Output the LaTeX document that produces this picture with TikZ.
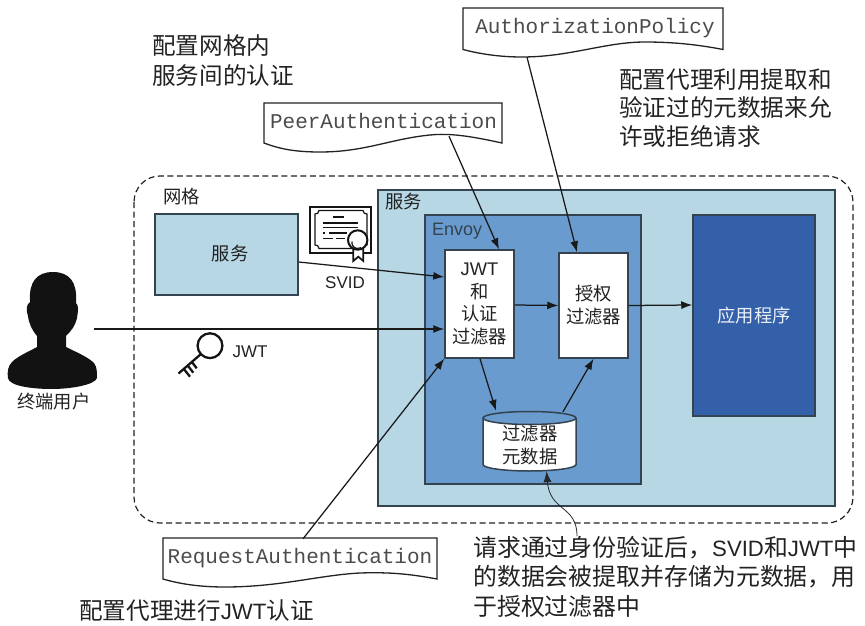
\documentclass[tikz,border=0pt]{standalone}
\usepackage{fontspec}
\setmainfont{Liberation Sans}
\setmonofont{Liberation Mono}
\newfontfamily\cjk{Noto Sans CJK SC}
\usetikzlibrary{arrows.meta,shapes.geometric,calc}
\newcommand{\fs}[2]{\fontsize{#1}{#2}\selectfont}
\newcommand{\lat}[1]{{\fontspec{Liberation Sans}\fontsize{22.2}{28}\selectfont #1}}
\definecolor{ink}{HTML}{222222}
\definecolor{edge}{HTML}{33434F}
\definecolor{pale}{HTML}{B7D7E5}
\definecolor{mid}{HTML}{6A9BCE}
\definecolor{deep}{HTML}{3360A8}
\tikzset{
  box/.style={draw=edge,line width=1.5pt,inner sep=0pt,text=ink,align=center},
  lab/.style={inner sep=0pt,text=ink,font=\fs{18.3}{22}\cjk},
  note/.style={inner sep=0pt,text=ink,anchor=north west,align=left,font=\fs{23.6}{29.5}\cjk},
  doc/.style={draw=ink,line width=1.3pt,fill=white,line join=miter},
  code/.style={inner sep=0pt,text=black!70,font=\fs{21}{24}\ttfamily},
  conn/.style={draw=black!90,line width=1.25pt,-{Latex[length=11pt,width=8pt]}},
  icon/.style={draw=black!92,line width=2pt},
}
\begin{document}
\begin{tikzpicture}[x=1pt,y=-1pt]
\useasboundingbox (0,0) rectangle (865,626);
% containers
\draw[ink,line width=1.2pt,dash pattern=on 6pt off 3.5pt,rounded corners=26pt] (134,176) rectangle (853,523);
\node[box,fill=pale,minimum width=457pt,minimum height=316pt] (svc) at (606.5,348) {};
\node[box,fill=mid,minimum width=216pt,minimum height=269pt] (envoy) at (533,349.5) {};
\node[box,fill=deep,minimum width=122pt,minimum height=201pt,font=\fs{18.3}{22}\cjk] (app) at (754,315.5) {\textcolor{white!90!deep}{应用程序}};
\node[box,fill=pale,minimum width=143pt,minimum height=81pt] (mesh) at (226.5,254.5) {};
\node[lab] (meshl) at (230,254) {服务};
\node[box,fill=white,minimum width=69pt,minimum height=108pt,font=\fs{18.3}{22.8}] (jwt) at (479.5,304) {JWT\\\cjk 和\\\cjk 认证\\\cjk 过滤器};
\node[box,fill=white,minimum width=69pt,minimum height=105pt,font=\fs{18.3}{23}\cjk] (auth) at (593.5,305.5) {授权\\过滤器};
% cylinder
\fill[white] (483,418) -- (483,464.5) arc[start angle=180,end angle=360,x radius=46.5,y radius=-6.5] -- (576,418) arc[start angle=0,end angle=180,x radius=46.5,y radius=6.5] -- cycle;
\draw[edge,line width=1.5pt] (483,418) -- (483,464.5) arc[start angle=180,end angle=0,x radius=46.5,y radius=6.5] -- (576,418);
\draw[edge,line width=1.5pt] (529.5,418) ellipse[x radius=46.5,y radius=6.5];
\node[inner sep=0pt,minimum width=93pt,minimum height=60pt] (meta) at (529.5,441) {};
\node[inner sep=0pt,text=ink,align=center,font=\fs{18.3}{23}\cjk] (metal) at (530,445) {过滤器\\元数据};
% labels
\node[lab,anchor=west] (l1) at (163,197) {网格};
\node[lab,anchor=west] (l2) at (385,202) {服务};
\node[inner sep=0pt,anchor=west,text=edge,font=\fs{18}{20}] (l3) at (432,231) {Envoy};
\node[inner sep=0pt,text=ink,font=\fs{17}{20}] (l4) at (345,283) {SVID};
\node[inner sep=0pt,text=ink,font=\fs{17}{20}] (l5) at (250,352) {JWT};
\node[lab] (l6) at (54,402) {终端用户};
% notes
\node[note] (n1) at (152,34.5) {配置网格内\\服务间的认证};
\node[note,font=\fs{23.6}{28.7}\cjk] (n2) at (619,68) {配置代理利用提取和\\验证过的元数据来允\\许或拒绝请求};
\node[note,font=\fs{23.9}{29.3}\cjk] (n3) at (473,536) {请求通过身份验证后，\lat{SVID}和\lat{JWT}中\\的数据会被提取并存储为元数据，用\\于授权过滤器中};
\node[note] (n4) at (79,599) {配置代理进行\lat{JWT}认证};
% documents
\draw[doc] (264,103) -- (502,103) -- (502,143) .. controls (470,136) and (450,133) .. (430,135) .. controls (390,139) and (365,152) .. (320,152) .. controls (295,152) and (280,149) .. (264,143) -- cycle;
\node[code,minimum width=238pt,minimum height=36pt] (peer) at (383.5,121) {PeerAuthentication};
\draw[doc] (463,8) -- (723,8) -- (723,49.5) .. controls (700,45) and (675,42) .. (645,42) .. controls (605,42) and (570,57) .. (522,57) .. controls (500,57) and (480,54) .. (463,49.5) -- cycle;
\node[code,minimum width=256pt,minimum height=34pt] (authz) at (595,28) {AuthorizationPolicy};
\draw[doc] (163,538) -- (437,538) -- (437,579) .. controls (410,574) and (390,572) .. (360,573) .. controls (320,575) and (280,587) .. (225,587) .. controls (200,587) and (180,584) .. (163,579) -- cycle;
\node[code,minimum width=274pt,minimum height=38pt] (req) at (300,558) {RequestAuthentication};
% person
\fill[black!93] (30,300) .. controls (29,283) and (36,272) .. (53,272) .. controls (70,272) and (77,283) .. (76,300) -- (76,303) .. controls (79,305) and (78,312) .. (77,318) .. controls (75,326) and (72,330) .. (66,336) -- (66,347) .. controls (76,352) and (88,357) .. (94,363) .. controls (97,367) and (97,372) .. (97,378) .. controls (95,385) and (70,389) .. (52,389) .. controls (32,389) and (9,386) .. (8,378) .. controls (7,372) and (8,366) .. (12,362) .. controls (18,356) and (28,352) .. (37,347) -- (37,336) .. controls (32,330) and (29,324) .. (28,316) .. controls (26,310) and (26,305) .. (30,302) -- cycle;
\coordinate (user) at (94,329);
% certificate
\draw[icon] (309.5,206.5) rectangle (371,252.5);
\draw[black!92,line width=1.2pt] (319,210.5) -- (363,210.5) .. controls (363,213) and (365,214) .. (367,214) -- (367,245) .. controls (365,245) and (363,246) .. (363,248.5) -- (319,248.5) .. controls (319,246) and (317,245) .. (315,245) -- (315,214) .. controls (317,214) and (319,213) .. (319,210.5) -- cycle;
\draw[black!92,line width=1.6pt] (333,216.7) -- (343.5,216.7) (323,222.7) -- (358,222.7) (323,227.5) -- (358,227.5) (323,233) -- (325,233) (329,233) -- (347,233) (323,238.3) -- (333,238.3) (336,238.3) -- (345,238.3);
\fill[white] (353,248) rectangle (364,261);
\draw[black!92,line width=1.7pt] (353.3,248) -- (353.3,261) -- (358.3,256.7) -- (363.3,261) -- (363.3,248);
\draw[black!92,line width=2pt,fill=white] (357.7,240) circle (9.7);
\draw[black!92,line width=1.2pt] (352,241.5) arc[start angle=190,end angle=60,radius=6];
% key
\draw[icon,line width=2.3pt] (210,345.7) circle (12.4);
\draw[icon,line width=2.3pt] (201,354) -- (178.5,373.5) (183.3,368.3) -- (190,376.7) (187.3,365) -- (193.3,372.7) (191.7,361.7) -- (196.7,368.3);
% connectors
\draw[conn] ([yshift=-7.5pt]mesh.east) -- ([yshift=27pt]jwt.west);
\draw[conn] (user) -- ([yshift=-25pt]jwt.west);
\draw[conn] ([xshift=65.5pt,yshift=3pt]peer.south) -- ([xshift=19.5pt]jwt.north);
\draw[conn] ([xshift=-68pt,yshift=-12pt]authz.south) -- ([xshift=-16.5pt]auth.north);
\draw[conn] ([xshift=3pt]req.north) -- (jwt.south west);
\draw[conn] ([yshift=-1pt]jwt.east) -- (auth.west);
\draw[conn] (auth.east) -- ([yshift=10.5pt]app.west);
\draw[conn] ([xshift=.5pt]jwt.south) -- ([xshift=-33.5pt]meta.north);
\draw[conn] ([xshift=33.5pt,yshift=-1pt]meta.north) -- (auth.south);
\draw[draw=black!85,line width=.8pt,-{Latex[length=11pt,width=8pt]}] (577,536) .. controls (577,505) and (550,512) .. ([xshift=17pt]meta.south);
\end{tikzpicture}
\end{document}
